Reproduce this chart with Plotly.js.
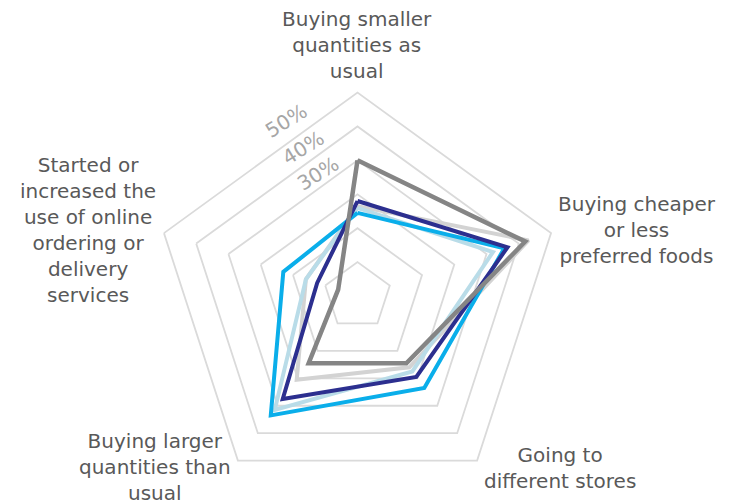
<!DOCTYPE html>
<html>
<head>
<meta charset="utf-8">
<script src="https://cdn.plot.ly/plotly-3.0.1.min.js"></script>
<style>html,body{margin:0;padding:0;background:#fff;}#chart{width:736px;height:504px;}</style>
</head>
<body>
<div id="chart"></div>
<script>
// Categories (clockwise from top)
const categories = [
  "Buying smaller quantities as usual",
  "Buying cheaper or less preferred foods",
  "Going to different stores",
  "Buying larger quantities than usual",
  "Started or increased the use of online ordering or delivery services"
];
const categoryLabels = [
  "Buying smaller<br>quantities as<br>usual",
  "Buying cheaper<br>or less<br>preferred foods",
  "Going to<br>different stores",
  "Buying larger<br>quantities than<br>usual",
  "Started or<br>increased the<br>use of online<br>ordering or<br>delivery<br>services"
];
// Series values (%), one per category
const seriesNames = ["Series 1", "Series 2", "Series 3", "Series 4", "Series 5"];
const seriesLightGray = [16.5, 43, 16, 20.5, 6];
const seriesLightBlue = [16, 32, 17.5, 31.5, 6];
const seriesCyan      = [14.5, 35.5, 23.5, 33.5, 13];
const seriesNavy      = [18, 36.5, 19.5, 27.5, 2.5];
const seriesDarkGray  = [30, 42, 14.5, 14.5, -4];
// Radial axis ticks
const radialTickVals = [0, 10, 20, 30, 40, 50];
const radialLabelVals = [50, 40, 30];
const radialLabelText = ["50%", "40%", "30%"];

const W = 736, H = 504;
const close = a => a.concat([a[0]]);
const thetaClosed = close(categories);

const styles = [
  {data: seriesLightGray, color: "#d3d3d3", width: 4},
  {data: seriesLightBlue, color: "#b9dce8", width: 4},
  {data: seriesCyan,      color: "#0aaeea", width: 4},
  {data: seriesNavy,      color: "#2c2f8f", width: 4},
  {data: seriesDarkGray,  color: "#858585", width: 4.5}
];
const traces = styles.map((s, i) => ({
  type: "scatterpolar",
  mode: "lines",
  r: close(s.data),
  theta: thetaClosed,
  name: seriesNames[i],
  line: {color: s.color, width: s.width},
  hoverinfo: "skip"
}));

const fontFam = "DejaVu Sans, sans-serif";
const catPos = [[357, 44.5], [637, 230], [560, 467.5], [155, 467], [88, 230]];
const annotations = categoryLabels.map((t, i) => ({
  text: t, xref: "paper", yref: "paper",
  x: catPos[i][0] / W, y: 1 - catPos[i][1] / H,
  xanchor: "center", yanchor: "middle", align: "center",
  showarrow: false,
  font: {family: fontFam, size: 20, color: "#595959"}
}));
const radPos = [[286, 121], [303, 148], [317.5, 174]];
radialLabelText.forEach((t, i) => {
  annotations.push({
    text: t, xref: "paper", yref: "paper",
    x: radPos[i][0] / W, y: 1 - radPos[i][1] / H,
    xanchor: "center", yanchor: "middle", showarrow: false,
    textangle: -32,
    font: {family: fontFam, size: 20, color: "#a6a6a6"}
  });
});

const cx = 357.5, cy = 296, R = 203.5;
const layout = {
  width: W, height: H,
  margin: {l: 0, r: 0, t: 0, b: 0},
  paper_bgcolor: "#ffffff",
  showlegend: false,
  font: {family: fontFam},
  polar: {
    domain: {x: [(cx - R) / W, (cx + R) / W], y: [1 - (cy + R) / H, 1 - (cy - R) / H]},
    gridshape: "linear",
    bgcolor: "rgba(0,0,0,0)",
    radialaxis: {
      range: [-10, 50],
      tickvals: radialTickVals,
      showticklabels: false,
      ticks: "",
      showline: false,
      gridcolor: "#dadada",
      gridwidth: 1.8
    },
    angularaxis: {
      rotation: 90,
      direction: "clockwise",
      showgrid: false,
      showticklabels: false,
      ticks: "",
      showline: true,
      linecolor: "#dadada",
      linewidth: 1.8
    }
  },
  annotations: annotations
};
Plotly.newPlot("chart", traces, layout, {displayModeBar: false, staticPlot: true});
</script>
</body>
</html>
